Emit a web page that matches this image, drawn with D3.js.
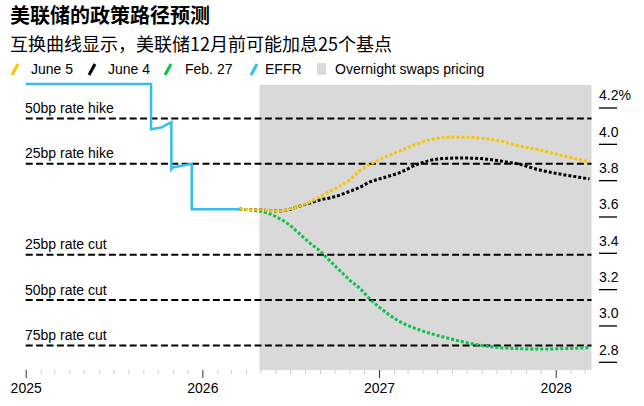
<!DOCTYPE html>
<html><head><meta charset="utf-8">
<script src="https://cdn.jsdelivr.net/npm/d3@7"></script>
<style>body{margin:0;background:#fff;overflow:hidden}</style>
</head><body><svg id="c" width="644" height="406"></svg>
<script>
// ---- data ----
const titleText = "美联储的政策路径预测";
const subtitleText = "互换曲线显示，美联储12月前可能加息25个基点";

const forecastDates = ["2026-03-18","2026-04-29","2026-06-09","2026-06-30","2026-07-21","2026-08-11","2026-08-31","2026-09-21","2026-10-12","2026-11-01","2026-11-22","2026-12-13","2027-01-02","2027-02-13","2027-03-26","2027-05-06","2027-06-17","2027-07-28","2027-09-07","2027-10-19","2027-11-29","2028-01-09","2028-03-11"];
const june5 = [3.64,3.636,3.630,3.641,3.658,3.680,3.707,3.738,3.768,3.801,3.851,3.886,3.914,3.961,4.005,4.032,4.038,4.032,4.016,3.988,3.966,3.939,3.900];
const june4 = [3.64,3.636,3.630,3.639,3.658,3.674,3.691,3.702,3.718,3.738,3.760,3.790,3.807,3.842,3.892,3.917,3.922,3.919,3.906,3.887,3.856,3.834,3.807];
const feb27 = [3.64,3.630,3.589,3.553,3.504,3.454,3.412,3.357,3.302,3.251,3.205,3.146,3.100,3.021,2.975,2.942,2.914,2.892,2.878,2.872,2.870,2.872,2.878];

const effrDates = ["2025-01-01","2025-09-17","2025-09-17","2025-10-08","2025-10-29","2025-10-29","2025-11-01","2025-12-10","2025-12-10","2026-03-18"];
const effrValues = [4.33,4.33,4.08,4.09,4.12,3.86,3.87,3.89,3.64,3.64];

const policyLevels = [4.14,3.89,3.39,3.14,2.89];
const policyLabels = ["50bp rate hike","25bp rate hike","25bp rate cut","50bp rate cut","75bp rate cut"];

const yTicks = [2.8,3.0,3.2,3.4,3.6,3.8,4.0,4.2];
const yearTicks = ["2025-01-01","2026-01-01","2027-01-01","2028-01-01"];
const swapsRange = ["2026-04-29","2028-03-15"];
const axisRange = ["2025-01-01","2028-03-15"];

const seriesNames = ["June 5","June 4","Feb. 27","EFFR"];
const seriesColors = ["#f7c600","#000000","#0dc14a","#35bcf2"];
const shadeLabel = "Overnight swaps pricing";

// ---- layout ----
const svg = d3.select("#c");
const parse = d3.utcParse("%Y-%m-%d");
const x = d3.scaleUtc().domain([parse("2025-01-01"), parse("2028-01-01")]).range([25.7, 555.7]);
const y = d3.scaleLinear().domain([2.8, 4.2]).range([361.8, 107.5]);
const plotTop = 85, plotBottom = 370;
const latin = "'Liberation Sans', Arial, sans-serif";
const cjk = "'Noto Sans CJK SC', sans-serif";

// title
svg.append("text").attr("x", 10).attr("y", 23).text(titleText)
  .attr("font-family", cjk).attr("font-weight", 700).attr("font-size", 20).attr("fill", "#000");
svg.append("text").attr("x", 10).attr("y", 51).text(subtitleText)
  .attr("font-family", cjk).attr("font-size", 18).attr("fill", "#000");

// legend
const legX = [12, 89, 165, 251];
const legTextX = [31, 108, 185, 265];
const legY = 69;
seriesNames.forEach((n, i) => {
  svg.append("line").attr("x1", legX[i]).attr("y1", legY + 6).attr("x2", legX[i] + 6).attr("y2", legY - 5)
    .attr("stroke", seriesColors[i]).attr("stroke-width", 3);
  svg.append("text").attr("x", legTextX[i]).attr("y", legY + 5).text(n)
    .attr("font-family", latin).attr("font-size", 14).attr("fill", "#000");
});
svg.append("rect").attr("x", 317).attr("y", legY - 6).attr("width", 9).attr("height", 12).attr("rx", 1.5).attr("fill", "#d9d9d9");
svg.append("text").attr("x", 335).attr("y", legY + 5).text(shadeLabel)
  .attr("font-family", latin).attr("font-size", 14).attr("fill", "#000");

// shaded region
svg.append("rect")
  .attr("x", x(parse(swapsRange[0]))).attr("y", plotTop)
  .attr("width", x(parse(swapsRange[1])) - x(parse(swapsRange[0])))
  .attr("height", plotBottom - plotTop).attr("fill", "#d9d9d9");

// x axis: monthly minor ticks + yearly major ticks
const xMin = x(parse(axisRange[0])), xMax = x(parse(axisRange[1]));
const months = d3.utcMonth.range(parse("2025-02-01"), parse("2028-04-01")).filter(d => d.getUTCMonth() !== 0);
const minorAxis = d3.axisBottom(x).tickValues(months).tickSize(4).tickFormat("");
const gMinor = svg.append("g").attr("transform", `translate(0,${plotBottom})`).call(minorAxis);
gMinor.select(".domain").remove();
gMinor.selectAll("line").attr("stroke", "#cfcfcf");
const majorAxis = d3.axisBottom(x).tickValues(yearTicks.map(parse)).tickSize(8).tickPadding(5)
  .tickFormat(d3.utcFormat("%Y"));
const gMajor = svg.append("g").attr("transform", `translate(0,${plotBottom})`).call(majorAxis);
gMajor.select(".domain").remove();
gMajor.selectAll("line").attr("stroke", "#333");
gMajor.selectAll("text").attr("font-family", latin).attr("font-size", 14).attr("fill", "#000");

// y axis (right)
const yAxis = d3.axisRight(y).tickValues(yTicks).tickSize(0).tickPadding(0)
  .tickFormat(d => d === 4.2 ? "4.2%" : d3.format(".1f")(d));
const gY = svg.append("g").attr("transform", "translate(599,0)").call(yAxis);
gY.select(".domain").remove();
gY.selectAll(".tick text").attr("x", 0).attr("dy", "-0.55em")
  .attr("font-family", latin).attr("font-size", 14).attr("fill", "#000").attr("text-anchor", "start");
gY.selectAll(".tick").append("line").attr("x1", 0).attr("x2", 18).attr("stroke", "#000").attr("stroke-width", 1.3);

// policy levels
policyLevels.forEach((v, i) => {
  svg.append("line").attr("x1", xMin).attr("x2", xMax).attr("y1", y(v)).attr("y2", y(v))
    .attr("stroke", "#000").attr("stroke-width", 2).attr("stroke-dasharray", "7,3.4");
  svg.append("text").attr("x", 25).attr("y", y(v) - 5.5).text(policyLabels[i])
    .attr("font-family", latin).attr("font-size", 14).attr("fill", "#000");
});

// lines
const line = d3.line().x(d => x(d[0])).y(d => y(d[1]));
const effr = effrDates.map((d, i) => [parse(d), effrValues[i]]);
svg.append("path").datum(effr).attr("d", line).attr("fill", "none")
  .attr("stroke", seriesColors[3]).attr("stroke-width", 2.5).attr("stroke-linejoin", "miter");

const smooth = d3.line().x(d => x(d[0])).y(d => y(d[1])).curve(d3.curveMonotoneX);
[[feb27, 2], [june4, 1], [june5, 0]].forEach(([vals, ci]) => {
  const data = forecastDates.map((d, i) => [parse(d), vals[i]]);
  svg.append("path").datum(data).attr("d", smooth).attr("fill", "none")
    .attr("stroke", seriesColors[ci]).attr("stroke-width", 3).attr("stroke-dasharray", "3,2");
});
</script></body></html>
